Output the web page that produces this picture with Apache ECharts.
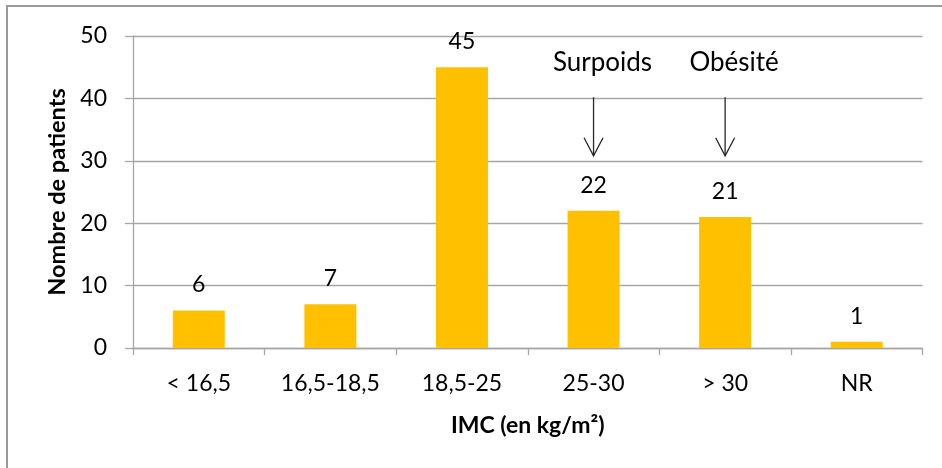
<!DOCTYPE html>
<html>
<head>
<meta charset="utf-8">
<script src="https://cdn.jsdelivr.net/npm/echarts@6/dist/echarts.min.js"></script>
<style>
  html, body { margin: 0; padding: 0; background: #fff; }
  #chart { width: 942px; height: 468px; }
</style>
</head>
<body>
<div id="chart"></div>
<script>
// IMC classes and number of patients in each
const categories = ['< 16,5', '16,5-18,5', '18,5-25', '25-30', '> 30', 'NR'];
const patients = [6, 7, 45, 22, 21, 1];

// y-axis ticks
const yMin = 0, yMax = 50, yStep = 10;

// Annotated classes with a downward arrow
const noteTexts = ['Surpoids', 'Obésité'];
const noteCats = ['25-30', '> 30'];
const arrowFrom = [40.2, 40.2];
const arrowTo = [30.8, 30.8];
const noteTextAt = [45.7, 45.7];

const FONT = 'Lato, "Open Sans", sans-serif';
const GRID = '#a6a6a6';
const FS = 23;

const noteData = noteCats.map((c, i) => [categories.indexOf(c), arrowFrom[i], arrowTo[i], noteTextAt[i], i]);

const chart = echarts.init(document.getElementById('chart'), null, { renderer: 'canvas' });
chart.setOption({
  animation: false,
  backgroundColor: '#fff',
  textStyle: { fontFamily: FONT },
  graphic: [{
    type: 'rect',
    shape: { x: 7, y: 6, width: 1200, height: 1200 },
    style: { fill: 'none', stroke: '#9a9a9a', lineWidth: 2 },
    silent: true,
    z: -1
  }],
  grid: { left: 133, right: 19.5, top: 36, bottom: 120, containLabel: false },
  xAxis: {
    type: 'category',
    data: categories,
    name: 'IMC (en kg/m²)',
    nameLocation: 'middle',
    nameGap: 66,
    nameTextStyle: { fontFamily: FONT, fontSize: 23, fontWeight: 'bold', color: '#000' },
    axisLine: { lineStyle: { color: GRID, width: 1.3 } },
    axisTick: { show: true, length: 7, lineStyle: { color: GRID, width: 1.3 } },
    axisLabel: { fontFamily: FONT, fontSize: FS, color: '#000', margin: 24 },
    splitLine: { show: false }
  },
  yAxis: {
    type: 'value',
    min: yMin, max: yMax, interval: yStep,
    name: 'Nombre de patients',
    nameLocation: 'middle',
    nameGap: 63,
    nameTextStyle: { fontFamily: FONT, fontSize: 23.5, fontWeight: 'bold', color: '#000' },
    axisLine: { show: true, lineStyle: { color: GRID, width: 1.3 } },
    axisTick: { show: true, length: 8, lineStyle: { color: GRID, width: 1.3 } },
    axisLabel: { fontFamily: FONT, fontSize: FS, color: '#000', margin: 26 },
    splitLine: { show: true, lineStyle: { color: GRID, width: 1.3 } }
  },
  series: [{
    type: 'bar',
    data: patients,
    barWidth: 52,
    itemStyle: { color: '#FFC000' },
    label: {
      show: true,
      position: 'top',
      distance: 14,
      fontFamily: FONT,
      fontSize: FS,
      color: '#000'
    }
  }, {
    type: 'custom',
    data: noteData,
    encode: { x: 0, y: 1 },
    silent: true,
    z: 5,
    renderItem: function (params, api) {
      const cat = api.value(0);
      const top = api.coord([cat, api.value(1)]);
      const tip = api.coord([cat, api.value(2)]);
      const txt = api.coord([cat, api.value(3)]);
      const idx = api.value(4);
      const stroke = { stroke: '#262626', lineWidth: 1.3, fill: 'none' };
      return {
        type: 'group',
        children: [
          { type: 'line', shape: { x1: top[0], y1: top[1], x2: tip[0], y2: tip[1] }, style: stroke },
          { type: 'polyline', shape: { points: [[tip[0] - 9.5, tip[1] - 18], [tip[0], tip[1]], [tip[0] + 9.5, tip[1] - 18]] }, style: stroke },
          { type: 'text', x: txt[0] + 9, y: txt[1],
            style: { text: noteTexts[idx], fontFamily: FONT, fontSize: 26, fill: '#000', align: 'center', verticalAlign: 'middle' } }
        ]
      };
    }
  }]
});
</script>
</body>
</html>
